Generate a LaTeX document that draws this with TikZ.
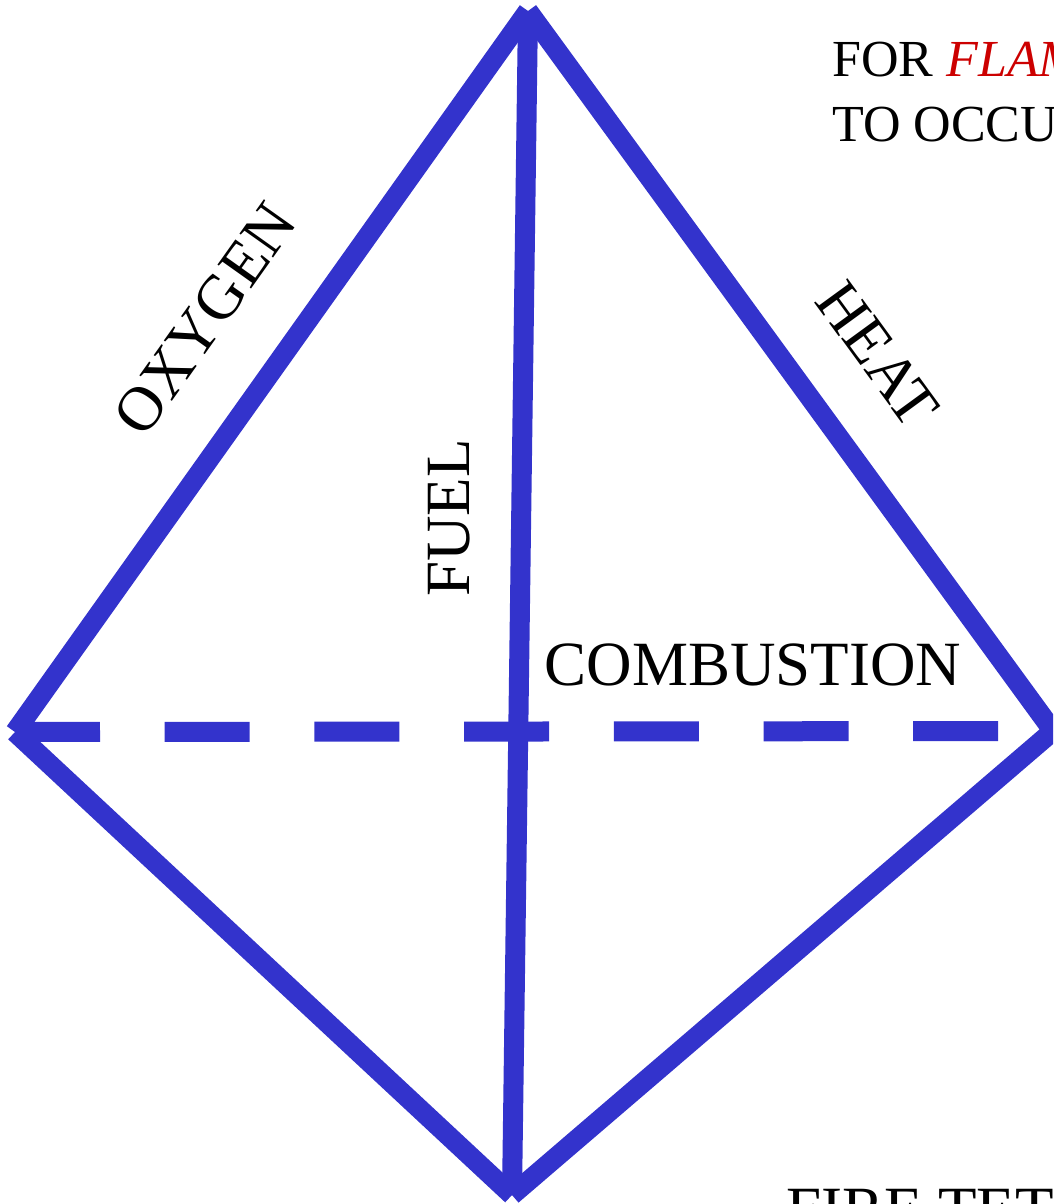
\documentclass[tikz,border=0pt]{standalone}
\usepackage{fontspec}
\setmainfont{Liberation Serif}
\definecolor{edgeblue}{RGB}{51,51,204}
\definecolor{flamered}{RGB}{204,0,0}
\begin{document}
\begin{tikzpicture}[x=1pt,y=-1pt,
  edge/.style={draw=edgeblue,line width=20pt},
  hidden/.style={edge,dash pattern=on 85pt off 64.7pt},
  biglabel/.style={inner sep=0pt,font=\fontsize{63}{63}\selectfont},
  notelabel/.style={inner sep=0pt,anchor=base west,font=\fontsize{52}{52}\selectfont}]
\useasboundingbox (0,0) rectangle (1053,1204);
\clip (0,0) rectangle (1053,1204);
\coordinate (A) at (528,11);
\coordinate (L) at (15,732);
\coordinate (R) at (1053,731);
\coordinate (B) at (512,1195);
\draw[edge] (A) -- (L);
\draw[edge] (A) -- (R);
\draw[edge] (A) -- (B);
\draw[edge] (L) -- (B);
\draw[edge] (B) -- (R);
\draw[hidden] (L) -- (R);
\node[biglabel,rotate=54.6] (oxy) at (205,319) {OXYGEN};
\node[biglabel,rotate=-53.9] (heat) at (878,354) {HEAT};
\node[biglabel,rotate=90] (fuel) at (449,518) {FUEL};
\node[biglabel] (comb) at (753,665) {COMBUSTION};
\node[notelabel] (note1) at (832,77) {FOR \textcolor{flamered}{\itshape FLAMING}};
\node[notelabel] (note2) at (832,142) {TO OCCUR};
\node[biglabel,anchor=base west] (title) at (786,1230) {FIRE TETRAHEDRON};
\end{tikzpicture}
\end{document}
